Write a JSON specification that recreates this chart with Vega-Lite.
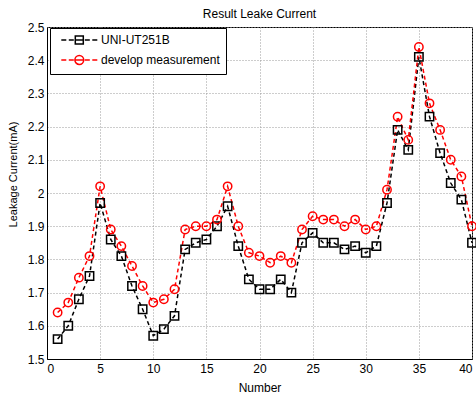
{
  "$schema": "https://vega.github.io/schema/vega-lite/v6.json",
  "autosize": {"type": "none"},
  "width": 425,
  "height": 332,
  "padding": {"left": 47, "top": 27, "right": 4, "bottom": 36},
  "background": "white",
  "title": {"text": "Result Leake Current", "font": "Liberation Sans", "fontSize": 12, "fontWeight": "normal", "color": "black", "offset": 0},
  "config": {
    "view": {"stroke": "black", "strokeWidth": 1},
    "axis": {
      "labelFont": "Liberation Sans", "labelFontSize": 12, "labelColor": "black",
      "titleFont": "Liberation Sans", "titleFontSize": 12, "titleFontWeight": "normal", "titleColor": "black",
      "domainColor": "black", "ticks": false,
      "gridColor": "#9a9a9a", "gridDash": [1, 2], "gridWidth": 1
    }
  },
  "data": {"values": [
    {"n":1,"series":"UNI-UT251B","v":1.56},{"n":2,"series":"UNI-UT251B","v":1.60},{"n":3,"series":"UNI-UT251B","v":1.68},{"n":4,"series":"UNI-UT251B","v":1.75},{"n":5,"series":"UNI-UT251B","v":1.97},
    {"n":6,"series":"UNI-UT251B","v":1.86},{"n":7,"series":"UNI-UT251B","v":1.81},{"n":8,"series":"UNI-UT251B","v":1.72},{"n":9,"series":"UNI-UT251B","v":1.65},{"n":10,"series":"UNI-UT251B","v":1.57},
    {"n":11,"series":"UNI-UT251B","v":1.59},{"n":12,"series":"UNI-UT251B","v":1.63},{"n":13,"series":"UNI-UT251B","v":1.83},{"n":14,"series":"UNI-UT251B","v":1.85},{"n":15,"series":"UNI-UT251B","v":1.86},
    {"n":16,"series":"UNI-UT251B","v":1.90},{"n":17,"series":"UNI-UT251B","v":1.96},{"n":18,"series":"UNI-UT251B","v":1.84},{"n":19,"series":"UNI-UT251B","v":1.74},{"n":20,"series":"UNI-UT251B","v":1.71},
    {"n":21,"series":"UNI-UT251B","v":1.71},{"n":22,"series":"UNI-UT251B","v":1.74},{"n":23,"series":"UNI-UT251B","v":1.70},{"n":24,"series":"UNI-UT251B","v":1.85},{"n":25,"series":"UNI-UT251B","v":1.88},
    {"n":26,"series":"UNI-UT251B","v":1.85},{"n":27,"series":"UNI-UT251B","v":1.85},{"n":28,"series":"UNI-UT251B","v":1.83},{"n":29,"series":"UNI-UT251B","v":1.84},{"n":30,"series":"UNI-UT251B","v":1.82},
    {"n":31,"series":"UNI-UT251B","v":1.84},{"n":32,"series":"UNI-UT251B","v":1.97},{"n":33,"series":"UNI-UT251B","v":2.19},{"n":34,"series":"UNI-UT251B","v":2.13},{"n":35,"series":"UNI-UT251B","v":2.41},
    {"n":36,"series":"UNI-UT251B","v":2.23},{"n":37,"series":"UNI-UT251B","v":2.12},{"n":38,"series":"UNI-UT251B","v":2.03},{"n":39,"series":"UNI-UT251B","v":1.98},{"n":40,"series":"UNI-UT251B","v":1.85},
    {"n":1,"series":"develop measurement","v":1.64},{"n":2,"series":"develop measurement","v":1.67},{"n":3,"series":"develop measurement","v":1.745},{"n":4,"series":"develop measurement","v":1.81},{"n":5,"series":"develop measurement","v":2.02},
    {"n":6,"series":"develop measurement","v":1.89},{"n":7,"series":"develop measurement","v":1.84},{"n":8,"series":"develop measurement","v":1.78},{"n":9,"series":"develop measurement","v":1.72},{"n":10,"series":"develop measurement","v":1.67},
    {"n":11,"series":"develop measurement","v":1.68},{"n":12,"series":"develop measurement","v":1.71},{"n":13,"series":"develop measurement","v":1.89},{"n":14,"series":"develop measurement","v":1.90},{"n":15,"series":"develop measurement","v":1.90},
    {"n":16,"series":"develop measurement","v":1.92},{"n":17,"series":"develop measurement","v":2.02},{"n":18,"series":"develop measurement","v":1.90},{"n":19,"series":"develop measurement","v":1.82},{"n":20,"series":"develop measurement","v":1.81},
    {"n":21,"series":"develop measurement","v":1.79},{"n":22,"series":"develop measurement","v":1.81},{"n":23,"series":"develop measurement","v":1.79},{"n":24,"series":"develop measurement","v":1.89},{"n":25,"series":"develop measurement","v":1.93},
    {"n":26,"series":"develop measurement","v":1.92},{"n":27,"series":"develop measurement","v":1.92},{"n":28,"series":"develop measurement","v":1.90},{"n":29,"series":"develop measurement","v":1.92},{"n":30,"series":"develop measurement","v":1.89},
    {"n":31,"series":"develop measurement","v":1.90},{"n":32,"series":"develop measurement","v":2.01},{"n":33,"series":"develop measurement","v":2.23},{"n":34,"series":"develop measurement","v":2.16},{"n":35,"series":"develop measurement","v":2.44},
    {"n":36,"series":"develop measurement","v":2.27},{"n":37,"series":"develop measurement","v":2.19},{"n":38,"series":"develop measurement","v":2.10},{"n":39,"series":"develop measurement","v":2.05},{"n":40,"series":"develop measurement","v":1.90}
  ]},
  "encoding": {
    "x": {"field": "n", "type": "quantitative",
      "scale": {"domain": [0, 40], "nice": false, "zero": false},
      "axis": {"title": "Number", "values": [0,5,10,15,20,25,30,35,40], "grid": true, "labelPadding": 4,
        "titleY": 32, "titleBaseline": "alphabetic"}},
    "y": {"field": "v", "type": "quantitative",
      "scale": {"domain": [1.5, 2.5], "nice": false, "zero": false},
      "axis": {"title": "Leakage Current(mA)", "values": [1.5,1.6,1.7,1.8,1.9,2.0,2.1,2.2,2.3,2.4,2.5], "format": ".2~f", "grid": true, "labelPadding": 3,
        "titleFontSize": 11, "titleX": -34, "titleY": 147, "titleAlign": "center", "titleBaseline": "middle"}},
    "color": {"field": "series", "type": "nominal",
      "scale": {"domain": ["UNI-UT251B", "develop measurement"], "range": ["black", "#ff0000"]},
      "legend": {
        "orient": "none", "legendX": 3, "legendY": 1, "title": null,
        "strokeColor": "black", "fillColor": "white", "padding": 6, "rowPadding": 5,
        "labelFont": "Liberation Sans", "labelFontSize": 12, "labelColor": "black",
        "symbolSize": 64, "labelOffset": 33,
        "encode": {"symbols": {"update": {
          "shape": {"signal": "datum.value === 'UNI-UT251B' ? 'M-0.175,0L1.075,0M1.7,0L2.95,0M3.325,-1L5.325,-1L5.325,1L3.325,1ZM3.325,0L5.325,0M5.7,0L6.95,0M7.575,0L8.825,0' : 'M-0.175,0L1.075,0M1.7,0L2.95,0M5.425,0A1.1,1.1,0,1,1,3.225,0A1.1,1.1,0,1,1,5.425,0M3.225,0L5.425,0M5.7,0L6.95,0M7.575,0L8.825,0'"},
          "stroke": {"signal": "datum.value === 'UNI-UT251B' ? 'black' : '#ff0000'"},
          "strokeWidth": {"value": 1.5},
          "fill": {"value": "transparent"},
          "opacity": {"value": 1}
        }}}
      }}
  },
  "layer": [
    {"mark": {"type": "line", "strokeDash": [4, 3], "strokeWidth": 1.5}},
    {"transform": [{"filter": "datum.series === 'UNI-UT251B'"}],
      "mark": {"type": "point", "shape": "square", "filled": false, "strokeWidth": 1.5, "size": 70, "opacity": 1}},
    {"transform": [{"filter": "datum.series === 'develop measurement'"}],
      "mark": {"type": "point", "shape": "circle", "filled": false, "strokeWidth": 1.5, "size": 70, "opacity": 1}}
  ]
}
